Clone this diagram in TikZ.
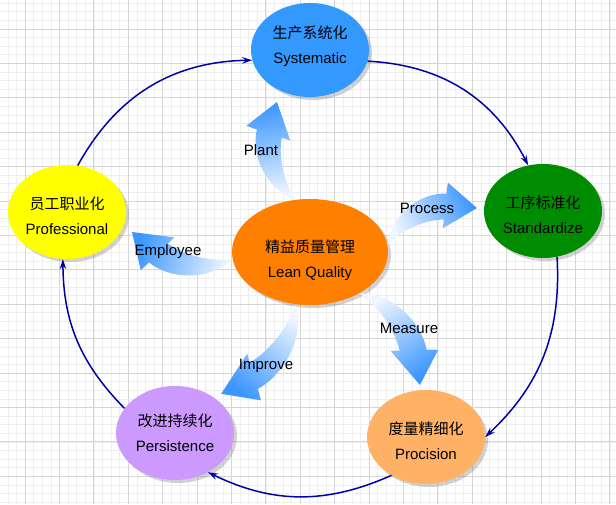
\documentclass[tikz,border=0pt]{standalone}
\usepackage{fontspec}
\setmainfont{Liberation Sans}
\newfontfamily\cjk{Noto Sans CJK SC}
\usepackage{tikz}
\usetikzlibrary{positioning,arrows.meta,shapes.geometric,shadows,calc}
\definecolor{gridmajor}{RGB}{214,214,214}
\definecolor{gridminor}{RGB}{238,238,238}
\definecolor{ringblue}{RGB}{0,0,170}
\definecolor{tailblue}{RGB}{238,246,255}
\definecolor{headblue}{RGB}{60,150,255}
\definecolor{sysblue}{RGB}{51,153,255}
\definecolor{stdgreen}{RGB}{0,140,0}
\definecolor{proyellow}{RGB}{255,255,0}
\definecolor{leanorange}{RGB}{255,128,0}
\definecolor{prcpeach}{RGB}{255,178,102}
\definecolor{perlilac}{RGB}{204,153,255}

% curved block arrow from #1 (tail) to #2 (tip)
\newcommand\blockarrow[2]{%
  \path let \p1=(#1), \p2=(#2) in
    \pgfextra{\pgfmathsetmacro\arrang{atan2(\y2-\y1,\x2-\x1)}%
      \pgfmathsetmacro\arrlen{veclen(\x2-\x1,\y2-\y1)/94}%
      \pgfmathsetmacro\shang{\arrang+90}%
      \xdef\arrang{\arrang}\xdef\arrlen{\arrlen}\xdef\shang{\shang}};
  \shade[barrow,shading angle=\shang,shift={(#1)},rotate=\arrang,xscale=\arrlen]
    (0,0) .. controls (15,28) and (50,36) .. (72,25) -- (77.5,34.6)
    -- (94,0) -- (55.7,-5.7) -- (60,2) .. controls (42,10) and (15,8) .. (0,0) -- cycle;
}
% struts that move a goal's text down (\lowr) or up (\upr)
\newcommand\lowr[1]{\rule{0pt}{#1pt}}
\newcommand\upr[1]{\rule[-#1pt]{0pt}{1pt}}

\begin{document}
\begin{tikzpicture}[x=1pt,y=1pt,
  goal/.style={ellipse,minimum width=118pt,minimum height=94pt,inner sep=0pt,
    align=center,font=\fontsize{15}{25}\selectfont,
    drop shadow={shadow xshift=3pt,shadow yshift=-3pt,opacity=0.35}},
  ring/.style={-{Stealth[length=10pt,width=6.5pt]},draw=ringblue,line width=1.5pt},
  barrow/.style={left color=tailblue,right color=headblue,draw=none},
  lbl/.style={font=\fontsize{15}{18}\selectfont,inner sep=1pt}
]
\useasboundingbox (0,0) rectangle (616,504);
\fill[white] (0,0) rectangle (616,504);
\begin{scope}
\clip (0,0) rectangle (616,504);
\foreach \k in {-3,...,69}
  \draw[gridminor,line width=0.6pt] (25+8.6*\k,0) -- (25+8.6*\k,504);
\foreach \k in {-3,...,55}
  \draw[gridminor,line width=0.6pt] (0,475-8.6*\k) -- (616,475-8.6*\k);
\foreach \k in {-1,...,17}
  \draw[gridmajor,line width=0.8pt] (25+34.4*\k,0) -- (25+34.4*\k,504);
\foreach \k in {-1,...,14}
  \draw[gridmajor,line width=0.8pt] (0,475-34.4*\k) -- (616,475-34.4*\k);
\end{scope}

% the six goals
\node[goal,fill=sysblue] (sys) at (310,454) {{\cjk 生产系统化}\\Systematic\upr{10}};
\node[goal,fill=stdgreen] (std) at (543,293) {\lowr{21}{\cjk 工序标准化}\\Standardize};
\node[goal,fill=proyellow] (pro) at (67,292) {\lowr{20}{\cjk 员工职业化}\\Professional};
\node[goal,fill=leanorange,minimum width=156pt,minimum height=106pt] (lean) at (310,252)
  {\lowr{29}{\cjk 精益质量管理}\\Lean Quality};
\node[goal,fill=prcpeach] (prc) at (426,67) {\lowr{21}{\cjk 度量精细化}\\Procision};
\node[goal,fill=perlilac] (per) at (175,71) {{\cjk 改进持续化}\\Persistence};

% outer cycle
\draw[ring] (pro.77) to[bend left=30] (sys.190);
\draw[ring] (sys.-11) to[bend left=30] (std.108);
\draw[ring] (std.-73) to[bend left=25] (prc.0);
\draw[ring] (prc.228) to[bend left=25] (per.-50);
\draw[ring] (per.154) to[bend left=22] (pro.265);

% block arrows out of the centre
\coordinate (plantTip) at (277,402);
\coordinate (processTip) at (477,296);
\coordinate (measureTip) at (420,119);
\coordinate (improveTip) at (221,110);
\coordinate (employeeTip) at (132,272);
\blockarrow{lean.105}{plantTip}
\blockarrow{lean.5}{processTip}
\blockarrow{lean.-40}{measureTip}
\blockarrow{lean.-105}{improveTip}
\blockarrow{lean.185}{employeeTip}

\node[lbl] (plant) at (261,354) {Plant};
\node[lbl] (process) at (427,296) {Process};
\node[lbl] (measure) at (409,176) {Measure};
\node[lbl] (improve) at (266,138) {Improve};
\node[lbl] (employee) at (168,252) {Employee};
\end{tikzpicture}
\end{document}
